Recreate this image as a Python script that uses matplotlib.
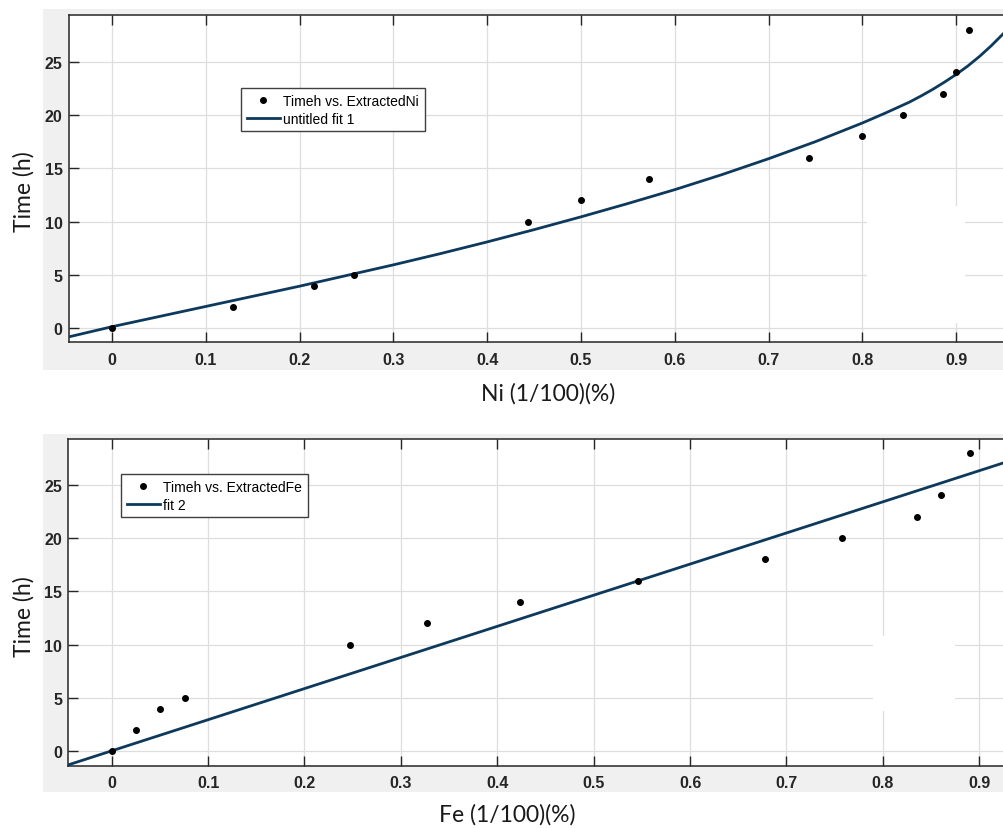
import matplotlib
matplotlib.use("Agg")
import matplotlib.pyplot as plt
from matplotlib.patches import Rectangle
from matplotlib.lines import Line2D

# Extracted fraction (1/100) and leaching time (h)
ni_frac = [0, 0.129, 0.215, 0.258, 0.444, 0.500, 0.572, 0.743, 0.800, 0.843, 0.886, 0.900, 0.914]
ni_time = [0, 2, 4, 5, 10, 12, 14, 16, 18, 20, 22, 24, 28]

fe_frac = [0, 0.025, 0.050, 0.076, 0.247, 0.327, 0.424, 0.546, 0.678, 0.758, 0.835, 0.860, 0.890]
fe_time = [0, 2, 4, 5, 10, 12, 14, 16, 18, 20, 22, 24, 28]

# fitted curves as plotted
ni_fit_x = [-0.046, 0, 0.05, 0.1, 0.15, 0.2, 0.25, 0.3, 0.35, 0.4, 0.45, 0.5, 0.55,
            0.6, 0.65, 0.7, 0.75, 0.8, 0.825, 0.85, 0.8625, 0.875, 0.8875, 0.9,
            0.9125, 0.925, 0.9375, 0.95, 0.96]
ni_fit_y = [-0.8, 0.15, 1.1, 2.05, 3.0, 3.95, 4.95, 5.95, 7.0, 8.1, 9.25, 10.45, 11.7,
            13.0, 14.4, 15.9, 17.5, 19.25, 20.2, 21.2, 21.78, 22.4, 23.08, 23.8,
            24.6, 25.5, 26.5, 27.6, 28.6]

fe_fit_x = [-0.046, 0.935]
fe_fit_y = [-1.3, 27.35]

xticks = [0, 0.1, 0.2, 0.3, 0.4, 0.5, 0.6, 0.7, 0.8, 0.9]
xticklabels = ["0", "0.1", "0.2", "0.3", "0.4", "0.5", "0.6", "0.7", "0.8", "0.9"]
yticks = [0, 5, 10, 15, 20, 25]

W, H = 1004, 829
LINE = "#0d3a5c"
INK = "#262626"

fig = plt.figure(figsize=(W / 100, H / 100), dpi=100)
fig.patch.set_facecolor("white")


def px_box(x0, y0, x1, y1):
    # pixel box (top-left origin) -> figure fraction [left, bottom, width, height]
    return [x0 / W, 1 - y1 / H, (x1 - x0) / W, (y1 - y0) / H]


# grey panels behind each axes
for box in [(43, 10, 1004, 371), (43, 435, 1004, 793)]:
    l, b, w, h = px_box(*box)
    fig.patches.append(Rectangle((l, b), w, h, transform=fig.transFigure,
                                 facecolor="#f0f0f0", edgecolor="none", zorder=-5))


def style_axes(ax, xlim, ylim):
    ax.set_xlim(*xlim)
    ax.set_ylim(*ylim)
    ax.set_xticks(xticks)
    ax.set_xticklabels(xticklabels)
    ax.set_yticks(yticks)
    ax.set_facecolor("white")
    ax.grid(True, color="#dedede", linewidth=0.9)
    ax.set_axisbelow(True)
    ax.tick_params(direction="in", length=7, width=1, color=INK,
                   labelsize=11.5, labelcolor=INK)
    ax.tick_params(axis="x", top=True, pad=7)
    ax.tick_params(axis="y", pad=4.5)
    for lab in ax.get_xticklabels() + ax.get_yticklabels():
        lab.set_fontweight("bold")
        lab.set_fontfamily("Liberation Sans")
    for s in ax.spines.values():
        s.set_color(INK)
        s.set_linewidth(1.1)
    ax.spines["right"].set_visible(False)


def add_legend(ax, anchor_px, labels):
    handles = [Line2D([], [], linestyle="none", marker="o", markersize=4,
                      color="black"),
               Line2D([], [], color=LINE, linewidth=2)]
    leg = ax.legend(handles, labels, loc="upper left",
                    bbox_to_anchor=(anchor_px[0] / W, 1 - anchor_px[1] / H),
                    bbox_transform=fig.transFigure, borderaxespad=0,
                    fancybox=False, framealpha=1, edgecolor="#404040",
                    prop={"family": "Liberation Sans", "size": 10},
                    handlelength=2.4, handletextpad=0.25, borderpad=0.4,
                    labelspacing=0.3)
    leg.get_frame().set_linewidth(1.0)


# top panel: Ni
ax1 = fig.add_axes(px_box(69, 15.7, 1012, 343.3))
style_axes(ax1, (-0.0458, (1012 - 112) / 938), (-1.31, 29.4))
ax1.add_patch(Rectangle((0.805, 0.5), 0.104, 11.0, facecolor="white",
                        edgecolor="none", zorder=1))
ax1.plot(ni_fit_x, ni_fit_y, color=LINE, linewidth=2, zorder=3)
ax1.plot(ni_frac, ni_time, "o", color="black", markersize=4, zorder=4)
add_legend(ax1, (241, 89), ["Timeh vs. ExtractedNi", "untitled fit 1"])

# bottom panel: Fe
ax2 = fig.add_axes(px_box(68.3, 440, 1012, 766.7))
style_axes(ax2, (-0.045, (1012 - 111.7) / 964), (-1.35, 29.3))
ax2.add_patch(Rectangle((0.79, 3.8), 0.085, 7.0, facecolor="white",
                        edgecolor="none", zorder=1))
ax2.plot(fe_fit_x, fe_fit_y, color=LINE, linewidth=2, zorder=3)
ax2.plot(fe_frac, fe_time, "o", color="black", markersize=4, zorder=4)
add_legend(ax2, (121, 475), ["Timeh vs. ExtractedFe", "fit 2"])

# axis titles
lab_font = {"family": "Lato", "size": 16.5, "color": "#1a1a1a"}
fig.text(548 / W, 1 - 394 / H, "Ni (1/100)(%)", ha="center", va="center", **lab_font)
fig.text(507 / W, 1 - 815 / H, "Fe (1/100)(%)", ha="center", va="center", **lab_font)
fig.text(24 / W, 1 - 192 / H, "Time (h)", ha="center", va="center", rotation=90, **lab_font)
fig.text(24 / W, 1 - 617 / H, "Time (h)", ha="center", va="center", rotation=90, **lab_font)

fig.savefig("out.png", dpi=100)
